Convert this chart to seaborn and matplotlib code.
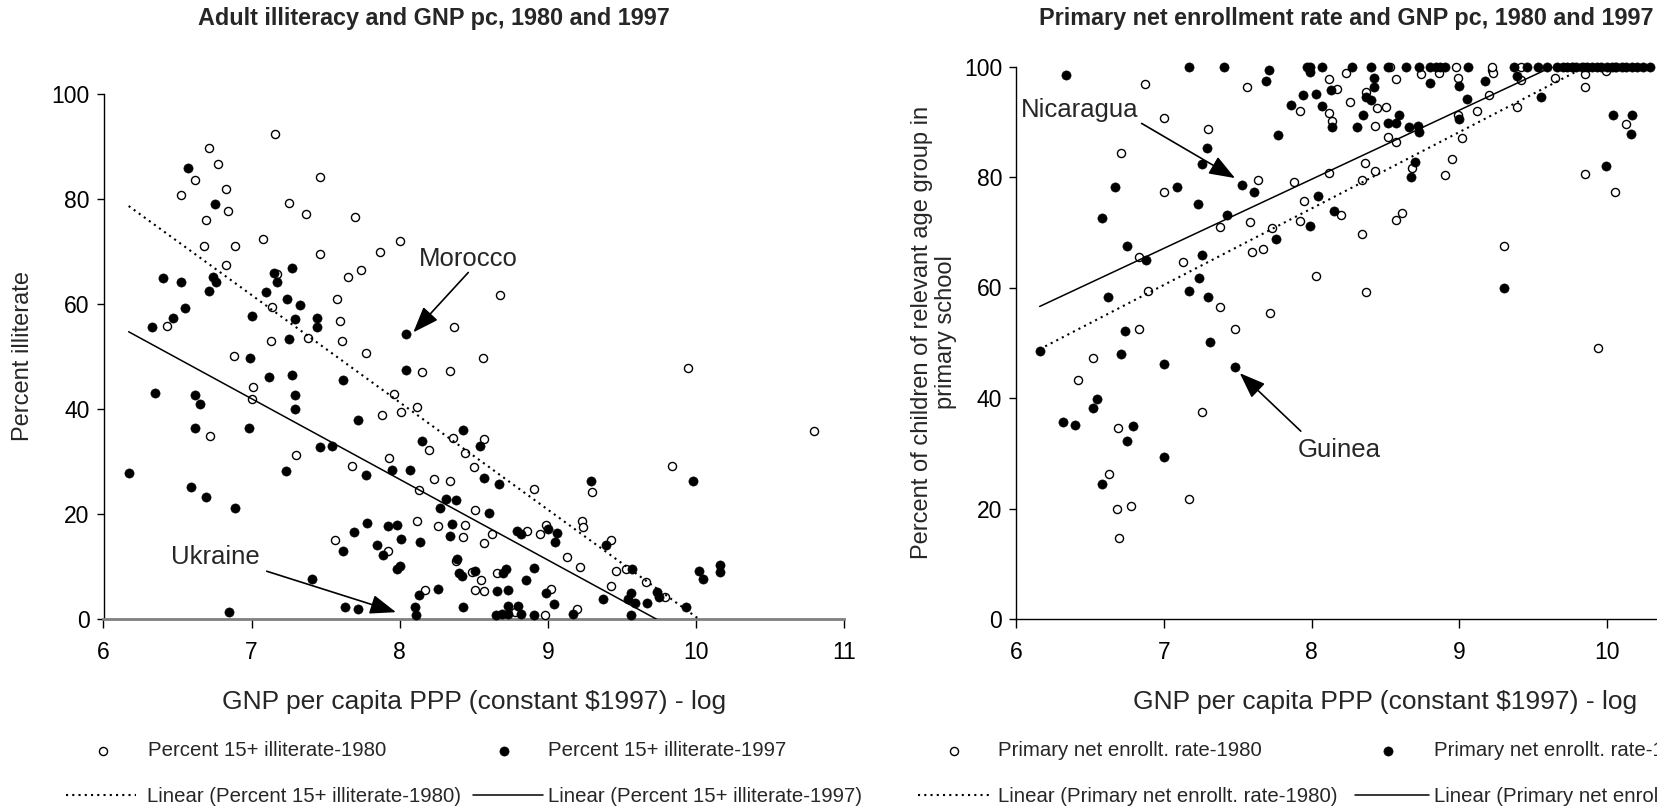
import numpy as np
import matplotlib
matplotlib.use("Agg")
import matplotlib.pyplot as plt
import seaborn as sns
from matplotlib.patches import Rectangle

# ---------------- DATA ----------------
# Left panel: adult illiteracy (% of 15+) vs log GNP per capita PPP
illit80_x = [7.16, 6.71, 6.77, 6.62, 6.83, 6.52, 7.46, 6.84, 6.69, 7.25, 7.37, 7.70, 6.68, 6.89,
             7.08, 8.00, 7.87, 7.46, 6.83, 7.74, 7.65, 7.17, 8.68, 7.58, 7.14, 7.60, 6.43, 8.37,
             7.13, 7.38, 7.61, 7.77, 6.88, 8.56, 8.15, 8.34, 7.01, 7.00, 7.96, 9.95, 10.80, 7.88,
             8.01, 8.12, 8.20, 8.36, 8.44, 8.57, 7.93, 6.72, 7.30, 7.68, 8.50, 8.23, 8.34, 8.13,
             8.51, 8.91, 8.12, 8.26, 8.44, 8.43, 8.57, 8.62, 8.86, 8.95, 8.99, 7.56, 7.92, 8.49,
             8.55, 8.51, 8.57, 8.66, 8.17, 8.78, 8.98, 9.02, 9.84, 9.30, 9.23, 9.24, 9.43, 9.13,
             9.22, 9.46, 9.53, 9.66, 9.43, 9.79, 9.20, 8.38]
illit80_y = [92.4, 89.7, 86.7, 83.6, 82.0, 80.8, 84.2, 77.8, 76.0, 79.3, 77.2, 76.6, 71.1, 71.1,
             72.3, 72.0, 69.9, 69.6, 67.5, 66.5, 65.1, 65.7, 61.7, 61.0, 59.5, 56.8, 55.9, 55.6,
             52.9, 53.5, 52.9, 50.7, 50.1, 49.8, 47.0, 47.3, 44.1, 42.0, 42.8, 47.9, 35.8, 38.8,
             39.4, 40.3, 32.1, 34.5, 31.7, 34.2, 30.6, 34.9, 31.2, 29.1, 29.0, 26.6, 26.3, 24.5,
             20.8, 24.8, 18.7, 17.8, 18.0, 15.7, 14.4, 16.2, 16.8, 16.2, 18.0, 15.0, 12.9, 8.9,
             7.4, 5.6, 5.3, 8.7, 5.6, 1.3, 0.7, 5.7, 29.1, 24.2, 18.7, 17.5, 15.0, 11.9,
             9.9, 9.2, 9.5, 7.1, 6.2, 4.1, 2.0, 11.0]

illit97_x = [6.57, 6.75, 7.27, 7.15, 7.17, 6.40, 6.52, 6.74, 6.76, 6.71, 7.10, 7.24, 7.33, 6.55,
             6.47, 6.33, 7.00, 7.29, 7.44, 7.44, 7.25, 8.04, 6.99, 8.04, 7.12, 7.27, 7.62, 6.35,
             6.62, 7.29, 6.65, 7.29, 6.62, 6.98, 7.72, 6.17, 6.59, 6.69, 6.89, 7.23, 7.46, 7.54,
             7.77, 7.95, 8.07, 8.15, 8.43, 8.54, 8.57, 8.67, 8.31, 8.38, 8.27, 8.60, 8.79, 8.82,
             9.06, 9.00, 9.05, 7.78, 7.69, 7.92, 7.98, 8.01, 8.14, 8.35, 8.34, 7.62, 7.85, 7.89,
             7.98, 8.00, 7.41, 8.39, 8.40, 8.42, 8.51, 8.72, 8.70, 8.91, 8.85, 8.26, 8.13, 8.66,
             8.73, 8.99, 9.04, 6.85, 7.63, 7.72, 8.10, 8.11, 8.43, 8.73, 8.80, 8.65, 8.69, 8.73,
             8.82, 8.91, 9.29, 9.98, 9.39, 9.17, 9.37, 9.56, 9.54, 9.59, 9.67, 9.56, 9.74, 9.75,
             9.93, 10.02, 10.05, 10.16, 10.16, 9.57]
illit97_y = [86.0, 79.0, 66.9, 66.0, 64.1, 65.0, 64.1, 65.1, 64.1, 62.5, 62.2, 61.0, 59.8, 59.2,
             57.3, 55.6, 57.7, 57.1, 57.3, 55.6, 53.4, 54.3, 49.8, 47.4, 46.1, 46.4, 45.5, 43.0,
             42.7, 42.7, 40.9, 40.0, 36.3, 36.3, 37.9, 27.8, 25.1, 23.2, 21.1, 28.1, 32.7, 33.0,
             27.5, 28.4, 28.4, 33.9, 36.0, 33.0, 26.9, 25.7, 22.9, 22.7, 21.1, 20.2, 16.8, 16.2,
             16.3, 17.2, 14.7, 18.3, 16.6, 17.8, 18.0, 15.3, 14.7, 18.1, 15.9, 12.9, 14.1, 12.2,
             9.6, 10.1, 7.7, 11.4, 8.8, 8.1, 9.2, 9.5, 8.7, 9.8, 7.4, 5.8, 4.6, 5.3,
             5.5, 4.9, 2.9, 1.3, 2.2, 2.0, 2.2, 0.7, 2.2, 2.5, 2.4, 0.7, 1.0, 0.9,
             0.9, 0.7, 26.3, 26.3, 14.1, 1.0, 3.8, 5.0, 3.8, 3.1, 3.1, 0.7, 5.1, 4.1,
             2.2, 9.2, 7.6, 10.2, 8.9, 9.5]

# Right panel: primary net enrollment rate vs log GNP per capita PPP
enrol80_x = [6.87, 7.56, 8.12, 8.17, 7.92, 8.12, 8.14, 7.00, 7.30, 6.71, 7.64, 7.88, 8.12, 7.00,
             7.95, 7.92, 7.58, 7.38, 7.73, 7.60, 7.67, 6.83, 7.13, 8.23, 8.57, 8.74, 8.86, 8.99,
             9.22, 9.23, 9.42, 9.65, 9.85, 9.85, 9.99, 8.26, 8.37, 8.44, 8.50, 8.43, 8.52, 8.57,
             8.99, 9.12, 9.20, 9.39, 9.02, 8.36, 8.43, 8.34, 8.68, 8.95, 8.90, 8.20, 8.57, 8.61,
             8.34, 9.30, 9.85, 10.05, 10.13, 6.89, 7.38, 6.83, 7.48, 7.72, 8.03, 8.37, 6.52, 6.42,
             7.26, 6.69, 6.63, 7.17, 6.68, 6.78, 6.70, 9.94, 8.53, 8.98, 9.22, 9.42, 9.77, 9.84,
             10.05]
enrol80_y = [96.8, 96.2, 97.7, 95.9, 91.9, 91.6, 90.2, 90.7, 88.7, 84.3, 79.4, 79.1, 80.8, 77.2,
             75.6, 72.1, 71.9, 71.0, 70.7, 66.4, 67.0, 65.6, 64.6, 98.9, 97.7, 98.6, 98.9, 98.0,
             99.4, 98.9, 97.6, 98.0, 98.6, 96.2, 99.1, 93.6, 95.4, 92.5, 92.7, 89.3, 87.3, 86.3,
             91.3, 91.9, 94.8, 92.7, 87.0, 82.6, 81.1, 79.5, 81.7, 83.2, 80.4, 73.1, 72.2, 73.4,
             69.7, 67.5, 80.6, 77.2, 89.6, 59.4, 56.5, 52.5, 52.5, 55.4, 62.1, 59.2, 47.3, 43.3,
             37.5, 34.6, 26.2, 21.8, 19.9, 20.4, 14.7, 49.0, 100, 100, 100, 100, 100, 100,
             100]

enrol97_x = [6.34, 7.17, 7.41, 7.71, 7.69, 7.97, 7.99, 8.07, 7.99, 7.94, 8.03, 8.13, 7.86, 8.07,
             8.14, 7.77, 7.29, 7.26, 7.53, 7.61, 6.67, 7.09, 7.23, 6.58, 7.43, 8.04, 8.15, 7.99,
             7.76, 6.75, 7.26, 6.88, 8.27, 8.40, 8.52, 8.64, 8.73, 8.80, 8.84, 8.87, 8.90, 9.06,
             9.37, 9.46, 9.53, 9.59, 9.66, 9.70, 9.73, 9.76, 9.79, 9.83, 9.86, 9.90, 9.93, 9.96,
             10.00, 10.03, 10.06, 10.10, 10.13, 10.17, 10.20, 10.24, 10.29, 8.42, 8.42, 8.37, 8.40,
             8.35, 8.31, 8.59, 8.52, 8.57, 8.66, 8.72, 8.73, 8.80, 9.00, 9.05, 9.00, 9.17, 9.39,
             9.55, 8.70, 8.67, 9.99, 10.04, 10.17, 10.16, 9.30, 6.16, 6.62, 7.24, 7.17, 7.30, 6.74,
             6.71, 7.00, 7.31, 7.48, 6.55, 6.52, 6.32, 6.40, 6.79, 6.75, 7.00, 6.58]
enrol97_y = [98.5, 100, 100, 99.4, 97.4, 100, 100, 100, 99.0, 94.8, 95.1, 95.7, 93.0, 92.8,
             89.0, 87.6, 85.2, 82.4, 78.6, 77.2, 78.2, 78.2, 75.1, 72.5, 73.1, 76.6, 73.9, 71.1,
             68.8, 67.6, 65.8, 64.9, 100, 100, 100, 100, 100, 100, 100, 100, 100, 100,
             100, 100, 100, 100, 100, 100, 100, 100, 100, 100, 100, 100, 100, 100,
             100, 100, 100, 100, 100, 100, 100, 100, 100, 98.0, 96.2, 94.5, 93.9,
             91.3, 89.1, 91.3, 89.8, 89.8, 89.1, 89.2, 88.1, 97.1, 96.5, 94.2, 90.5, 97.4, 98.3,
             94.5, 82.7, 80.0, 82.0, 91.3, 91.3, 87.8, 60.0, 48.5, 58.3, 61.8, 59.4, 58.3, 52.2,
             47.9, 46.1, 50.2, 45.6, 39.8, 38.1, 35.7, 35.1, 34.9, 32.2, 29.3, 24.4]

x_ticks = [6, 7, 8, 9, 10, 11]
y_ticks = [0, 20, 40, 60, 80, 100]

titles = ["Adult illiteracy and GNP pc, 1980 and 1997",
          "Primary net enrollment rate and GNP pc, 1980 and 1997"]
x_label = "GNP per capita PPP (constant $1997) - log"
y_labels = ["Percent illiterate",
            "Percent of children of relevant age group in\nprimary school"]
legend_left = ["Percent 15+ illiterate-1980", "Percent 15+ illiterate-1997",
               "Linear (Percent 15+ illiterate-1980)", "Linear (Percent 15+ illiterate-1997)"]
legend_right = ["Primary net enrollt. rate-1980", "Primary net enrollt. rate-1997",
                "Linear (Primary net enrollt. rate-1980)", "Linear (Primary net enrollt. rate-1997)"]

# ---------------- STYLE ----------------
sns.set_style("white")
plt.rcParams["font.family"] = ["Liberation Sans", "DejaVu Sans"]

W, H = 1673, 809
fig = plt.figure(figsize=(W / 100, H / 100), dpi=100)


def fx(px):
    return px / W


def fy(py):
    return 1 - py / H


ax1 = fig.add_axes([fx(103.5), fy(619), (844 - 103.5) / W, (619 - 94) / H])
ax2 = fig.add_axes([fx(1016), fy(619), 739 / W, (619 - 66.5) / H])


def panel(ax, x80, y80, x97, y97, gray_xaxis):
    sns.scatterplot(x=x80, y=y80, ax=ax, s=34, color="white", edgecolor="black",
                    linewidth=1.0, clip_on=False, zorder=3, legend=False)
    h80 = ax.collections[-1]
    sns.scatterplot(x=x97, y=y97, ax=ax, s=44, color="black", edgecolor="black",
                    linewidth=0.4, clip_on=False, zorder=3, legend=False)
    h97 = ax.collections[-1]
    lo = min(min(x80), min(x97))
    hi = max(max(x80), max(x97))
    gx = np.array([lo, hi])
    c80 = np.polyfit(x80, y80, 1)
    c97 = np.polyfit(x97, y97, 1)
    sns.lineplot(x=gx, y=np.polyval(c80, gx), ax=ax, color="black", lw=1.5,
                 linestyle=(0, (1, 2)), zorder=4)
    l80 = ax.lines[-1]
    sns.lineplot(x=gx, y=np.polyval(c97, gx), ax=ax, color="black", lw=1.1, zorder=4)
    l97 = ax.lines[-1]

    ax.set_xlim(6, 11)
    ax.set_ylim(0, 100)
    ax.set_xticks(x_ticks)
    ax.set_yticks(y_ticks)
    ax.tick_params(axis="both", which="both", bottom=True, left=True, direction="out",
                   colors="black", labelsize=16.5, width=1)
    ax.tick_params(axis="x", length=6.5, pad=9)
    ax.tick_params(axis="y", length=5, pad=5)
    for s in ["top", "right"]:
        ax.spines[s].set_visible(False)
    ax.spines["left"].set_color("black")
    ax.spines["left"].set_linewidth(1)
    if gray_xaxis:
        ax.spines["bottom"].set_color("#808080")
        ax.spines["bottom"].set_linewidth(2)
    else:
        ax.spines["bottom"].set_color("black")
        ax.spines["bottom"].set_linewidth(1)
    ax.set_xlabel(x_label, fontsize=19, labelpad=19)
    ax.set_ylabel("")
    return h80, h97, l80, l97


hL = panel(ax1, illit80_x, illit80_y, illit97_x, illit97_y, True)
hR = panel(ax2, enrol80_x, enrol80_y, enrol97_x, enrol97_y, False)

# Titles
fig.text(fx(434), fy(18), titles[0], fontsize=16.8, fontweight="bold", ha="center", va="center")
fig.text(fx(1346), fy(18), titles[1], fontsize=16.8, fontweight="bold", ha="center", va="center")

# Y labels
fig.text(fx(23.5), fy(356), y_labels[0], fontsize=17, rotation=90, ha="center", va="center")
fig.text(fx(934), fy(332), y_labels[1], fontsize=17, rotation=90, ha="center", va="center",
         multialignment="center", linespacing=1.1)

# Annotations
arrow_kw = dict(arrowstyle="-|>,head_length=0.8,head_width=0.3", color="black", lw=1.2,
                shrinkA=0, shrinkB=0, mutation_scale=20)
ax1.text(8.13, 68.6, "Morocco", fontsize=18.5, ha="left", va="center")
ax1.annotate("", xy=(8.092, 54.6), xytext=(8.463, 66.0), arrowprops=arrow_kw, annotation_clip=False)
ax1.text(6.454, 11.9, "Ukraine", fontsize=18.5, ha="left", va="center")
ax1.annotate("", xy=(7.975, 1.3), xytext=(7.102, 9.1), arrowprops=arrow_kw, annotation_clip=False)
ax2.text(6.032, 92.2, "Nicaragua", fontsize=18.5, ha="left", va="center")
ax2.annotate("", xy=(7.482, 79.8), xytext=(6.85, 89.7), arrowprops=arrow_kw, annotation_clip=False)
ax2.text(7.908, 30.6, "Guinea", fontsize=18.5, ha="left", va="center")
ax2.annotate("", xy=(7.514, 44.5), xytext=(7.927, 34.0), arrowprops=arrow_kw, annotation_clip=False)

# Legends (one entry each, placed like the original two-row legends)
LEG_FS = 14.7
fs_px = LEG_FS * 100 / 72


def entry(handle, label, start, length, text_at, y):
    leg = fig.legend(handles=[handle], labels=[label], loc="center left",
                     bbox_to_anchor=(fx(start), fy(y)), bbox_transform=fig.transFigure,
                     frameon=False, borderpad=0, borderaxespad=0, fontsize=LEG_FS,
                     handlelength=length / fs_px,
                     handletextpad=(text_at - start - length) / fs_px,
                     scatterpoints=1)
    leg.set_zorder(5)


entry(hL[0], legend_left[0], 93, 20, 148, 751)
entry(hL[1], legend_left[1], 494, 20, 548, 751)
entry(hL[2], legend_left[2], 66, 70, 147, 797)
entry(hL[3], legend_left[3], 473, 70, 548, 797)
entry(hR[0], legend_right[0], 944, 20, 998, 751)
entry(hR[1], legend_right[1], 1378, 20, 1434, 751)
entry(hR[2], legend_right[2], 918, 71, 998, 797)
entry(hR[3], legend_right[3], 1355, 74, 1434, 797)

# The original picture is cut off at the right edge
fig.add_artist(Rectangle((fx(1657), 0), 1, 1, transform=fig.transFigure,
                         facecolor="white", edgecolor="none", zorder=100))

fig.savefig("out.png", dpi=100)
